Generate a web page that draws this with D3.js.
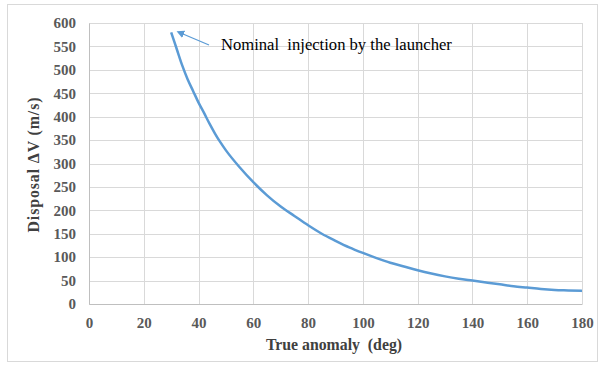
<!DOCTYPE html>
<html>
<head>
<meta charset="utf-8">
<script src="https://cdn.jsdelivr.net/npm/d3@7"></script>
<style>
  body { margin: 0; background: #fff; }
</style>
</head>
<body>
<div id="chart"></div>
<script>
// True anomaly (deg) and disposal delta-V (m/s)
const anomaly = [30, 32, 34, 36, 38, 40, 42, 44, 46, 48, 50, 55, 60, 65, 70, 75, 80, 85, 90, 95,
    100, 105, 110, 115, 120, 125, 130, 135, 140, 145, 150, 155, 160, 165, 170, 175, 180];
const deltaV = [580, 545, 510, 480, 455, 430, 408, 385, 364, 345, 328, 292, 260, 232, 208, 188, 168, 150, 135, 121,
    109, 98, 88, 80, 72, 65, 59, 54, 50, 46, 42, 38, 35, 32, 30, 29, 28];
const xTicks = [0, 20, 40, 60, 80, 100, 120, 140, 160, 180];
const yTicks = [0, 50, 100, 150, 200, 250, 300, 350, 400, 450, 500, 550, 600];

const W = 605, H = 365;
const FONT = "Liberation Serif";
const margin = { top: 23, right: 23, bottom: 61, left: 89 },
    width = W - margin.left - margin.right,
    height = H - margin.top - margin.bottom;

const svg = d3.select("#chart").append("svg")
    .attr("width", W)
    .attr("height", H);

// outer frame
svg.append("rect")
    .attr("x", 7.5).attr("y", 4.5)
    .attr("width", 590).attr("height", 357)
    .attr("fill", "none")
    .attr("stroke", "#d9d9d9");

const g = svg.append("g")
    .attr("transform", "translate(" + margin.left + "," + margin.top + ")");

const x = d3.scaleLinear().domain([0, 180]).range([0, width]);
const y = d3.scaleLinear().domain([0, 600]).range([height, 0]);

// grid
g.append("g").selectAll("line")
    .data(xTicks)
    .enter().append("line")
    .attr("x1", d => Math.round(x(d)) + 0.5).attr("x2", d => Math.round(x(d)) + 0.5)
    .attr("y1", 0).attr("y2", height)
    .attr("stroke", "#d9d9d9");
g.append("g").selectAll("line")
    .data(yTicks)
    .enter().append("line")
    .attr("y1", d => Math.round(y(d)) + 0.5).attr("y2", d => Math.round(y(d)) + 0.5)
    .attr("x1", 0).attr("x2", width)
    .attr("stroke", "#d9d9d9");

// axes
const xAxis = g.append("g")
    .attr("transform", "translate(0," + height + ")")
    .call(d3.axisBottom(x).tickValues(xTicks).tickSize(0).tickPadding(13));
const yAxis = g.append("g")
    .call(d3.axisLeft(y).tickValues(yTicks).tickSize(0).tickPadding(13));
[xAxis, yAxis].forEach(a => {
    a.attr("font-family", null).attr("font-size", null);
    a.select(".domain").attr("stroke", "#bfbfbf");
    a.selectAll("text")
        .attr("font-family", FONT)
        .attr("font-size", 15)
        .attr("fill", "#595959")
        .attr("font-weight", "bold");
});

// curve
g.append("path")
    .datum(anomaly.map((a, i) => [a, deltaV[i]]))
    .attr("fill", "none")
    .attr("stroke", "#5b9bd5")
    .attr("stroke-width", 2.5)
    .attr("d", d3.line().x(d => x(d[0])).y(d => y(d[1])).curve(d3.curveMonotoneX));

// annotation
svg.append("defs").append("marker")
    .attr("id", "arrow")
    .attr("viewBox", "0 0 10 10")
    .attr("refX", 1).attr("refY", 5)
    .attr("markerWidth", 6).attr("markerHeight", 6)
    .attr("orient", "auto-start-reverse")
    .append("path")
    .attr("d", "M0,0 L10,5 L0,10 z")
    .attr("fill", "#5b9bd5");
svg.append("line")
    .attr("x1", 209).attr("y1", 45)
    .attr("x2", 183).attr("y2", 34)
    .attr("stroke", "#5b9bd5")
    .attr("stroke-width", 1.3)
    .attr("marker-end", "url(#arrow)");
svg.append("text")
    .attr("x", 221).attr("y", 50)
    .attr("font-family", FONT)
    .attr("fill", "#000")
    .attr("font-size", 16.6)
    .style("white-space", "pre")
    .text("Nominal  injection by the launcher");

// axis titles
svg.append("text")
    .attr("x", 334).attr("y", 350)
    .attr("text-anchor", "middle")
    .attr("font-family", FONT)
    .attr("fill", "#404040")
    .attr("font-size", 15.8)
    .attr("font-weight", "bold")
    .style("white-space", "pre")
    .text("True anomaly  (deg)");
svg.append("text")
    .attr("transform", "translate(39,165) rotate(-90)")
    .attr("text-anchor", "middle")
    .attr("font-family", FONT)
    .attr("fill", "#404040")
    .attr("font-size", 15.8)
    .attr("font-weight", "bold")
    .attr("textLength", 135)
    .text("Disposal ΔV (m/s)");
</script>
</body>
</html>
